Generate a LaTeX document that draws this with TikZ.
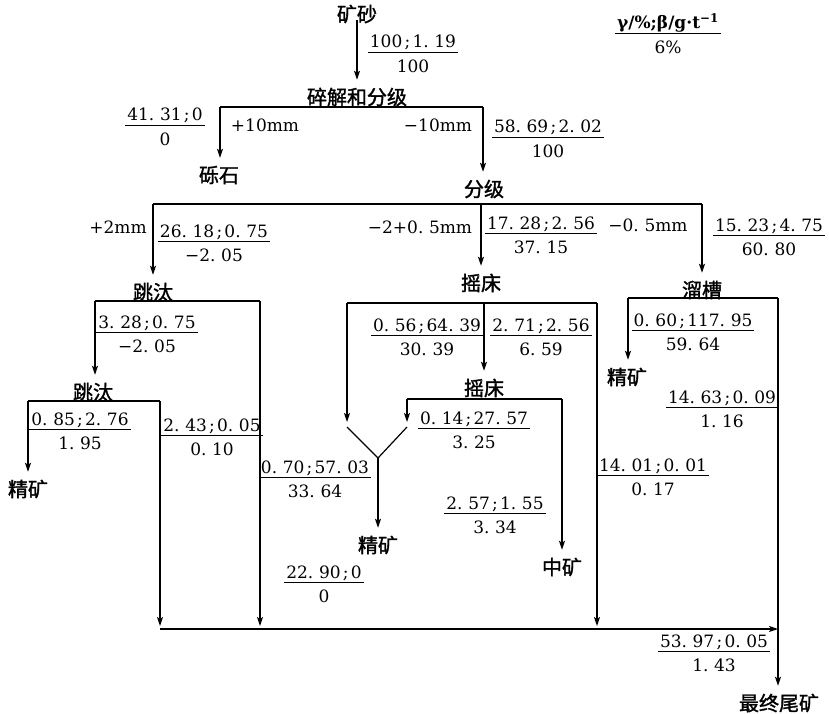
\documentclass[tikz,border=0pt]{standalone}
\usepackage{fontspec}
\setmainfont{DejaVu Serif}
\newfontfamily\cjkfont[FakeBold=1.5]{Noto Sans CJK SC}
\usetikzlibrary{arrows.meta}
\setlength\arrayrulewidth{1.1pt}
\newcommand\dd{\makebox[0.65em][l]{.}}
\newcommand\sm{\makebox[0.6em][c]{;}}
\newcommand\frc[2]{\begin{tabular}[t]{@{\hspace{2pt}}c@{\hspace{2pt}}}#1\\[-3pt]\hline\rule{0pt}{20pt}#2\end{tabular}}
\begin{document}
\begin{tikzpicture}[x=1pt,y=-1pt,
  proc/.style={font=\cjkfont\fontsize{20}{22}\selectfont, inner sep=1pt, outer sep=7pt},
  lbl/.style={font=\fontsize{17}{22}\selectfont, inner sep=0pt, anchor=base},
  frac/.style={font=\fontsize{17}{22}\selectfont, inner sep=0pt, anchor=base},
  ln/.style={line width=1.2pt},
  bar/.style={line width=1.8pt},
  arr/.style={line width=1.2pt, -{Stealth[length=9pt,width=6pt,inset=2pt]}}]
\fill[white] (0,0) rectangle (829,714);
\useasboundingbox (0,0) rectangle (829,714);

% process nodes
\node[proc] (ks) at (357,14) {矿砂};
\node[proc] (sj) at (357,97) {碎解和分级};
\node[proc] (ls) at (219,175) {砾石};
\node[proc] (fj) at (484,189) {分级};
\node[proc] (tt1) at (153,292) {跳汰};
\node[proc] (yc1) at (481,283) {摇床};
\node[proc] (lc) at (702,290) {溜槽};
\node[proc] (tt2) at (93,392) {跳汰};
\node[proc] (jk1) at (28,489) {精矿};
\node[proc] (yc2) at (484,388) {摇床};
\node[proc] (jk2) at (378,545) {精矿};
\node[proc] (zk) at (562,567) {中矿};
\node[proc] (jk3) at (627,377) {精矿};
\node[proc] (zw) at (779,703) {最终尾矿};

% size labels
\node[lbl] (p10) at (265,132) {+10mm};
\node[lbl] (m10) at (438,132) {−10mm};
\node[lbl] (p2) at (118,233) {+2mm};
\node[lbl] (m2) at (420,233) {−2+0\dd5mm};
\node[lbl] (m05) at (648,231) {−0\dd5mm};

% fractions
\node[frac] (f1) at (413,48) {\frc{100\sm1\dd19}{100}};
\node[frac] (f2) at (165,121) {\frc{41\dd31\sm0}{0}};
\node[frac] (f3) at (548,133) {\frc{58\dd69\sm2\dd02}{100}};
\node[frac] (f4) at (214,237) {\frc{26\dd18\sm0\dd75}{−2\dd05}};
\node[frac] (f5) at (541,229) {\frc{17\dd28\sm2\dd56}{37\dd15}};
\node[frac] (f6) at (769,231) {\frc{15\dd23\sm4\dd75}{60\dd80}};
\node[frac] (f7) at (147,328) {\frc{3\dd28\sm0\dd75}{−2\dd05}};
\node[frac] (f8) at (427,331) {\frc{0\dd56\sm64\dd39}{30\dd39}};
\node[frac] (f9) at (541,331) {\frc{2\dd71\sm2\dd56}{6\dd59}};
\node[frac] (f10) at (693,326) {\frc{0\dd60\sm117\dd95}{59\dd64}};
\node[frac] (f11) at (80,425) {\frc{0\dd85\sm2\dd76}{1\dd95}};
\node[frac] (f12) at (212,431) {\frc{2\dd43\sm0\dd05}{0\dd10}};
\node[frac] (f13) at (315,473) {\frc{0\dd70\sm57\dd03}{33\dd64}};
\node[frac] (f14) at (324,578) {\frc{22\dd90\sm0}{0}};
\node[frac] (f15) at (474,424) {\frc{0\dd14\sm27\dd57}{3\dd25}};
\node[frac] (f16) at (495,509) {\frc{2\dd57\sm1\dd55}{3\dd34}};
\node[frac] (f17) at (722,403) {\frc{14\dd63\sm0\dd09}{1\dd16}};
\node[frac] (f18) at (653,471) {\frc{14\dd01\sm0\dd01}{0\dd17}};
\node[frac] (f19) at (714,647) {\frc{53\dd97\sm0\dd05}{1\dd43}};
\node[frac] (lg) at (668,29) {\frc{\bfseries γ/\%;β/g·t\textsuperscript{−1}}{6\%}};

% bar coordinates
\coordinate (b1L) at (220,107); \coordinate (b1R) at (483,107);
\coordinate (b2L) at (153,204); \coordinate (b2M) at (481,204); \coordinate (b2R) at (702,204);
\coordinate (b3L) at (95,301);  \coordinate (b3R) at (260,301);
\coordinate (b4L) at (347,303); \coordinate (b4M) at (484,303); \coordinate (b4R) at (597,303);
\coordinate (b5L) at (628,298); \coordinate (b5R) at (778,298);
\coordinate (b6L) at (28,401);  \coordinate (b6R) at (160,401);
\coordinate (b7L) at (407,399); \coordinate (b7R) at (562,399);
\coordinate (c1) at (160,629); \coordinate (c2) at (260,629);
\coordinate (c3) at (597,629); \coordinate (c4) at (778,629);
\coordinate (yL) at (347,427); \coordinate (yR) at (407,427); \coordinate (yJ) at (378,458);

% connectors
\draw[arr] ([yshift=11pt]ks.south) -- (sj.north);
\draw[bar] (b1L) -- (b1R);
\draw[arr] (b1L) -- (b1L |- ls.north);
\draw[arr] (b1R) -- (b1R |- fj.north);

\draw[bar] (b2L) -- (b2R);
\draw[arr] (b2L) -- (b2L |- tt1.north);
\draw[arr] (b2M) -- (b2M |- yc1.north);
\draw[arr] (b2R) -- (b2R |- lc.north);

\draw[bar] (b3L) -- (b3R);
\draw[arr] (b3L) -- (b3L |- tt2.north);
\draw[arr,shorten >=3pt] (b3R) -- (c2);

\draw[bar] (b6L) -- (b6R);
\draw[arr] (b6L) -- (b6L |- jk1.north);
\draw[arr,shorten >=3pt] (b6R) -- (c1);

\draw[bar] (b4L) -- (b4R);
\draw[arr,shorten >=5pt] (b4L) -- (yL);
\draw[arr] (b4M) -- (b4M |- yc2.north);
\draw[arr,shorten >=3pt] (b4R) -- (c3);

\draw[bar] (b7L) -- (b7R);
\draw[arr,shorten >=5pt] (b7L) -- (yR);
\draw[arr] (b7R) -- (b7R |- zk.north);

\draw[ln] (yL) -- (yJ) -- (yR);
\draw[arr] (yJ) -- (yJ |- jk2.north);

\draw[bar] (b5L) -- (b5R);
\draw[arr] (b5L) -- (b5L |- jk3.north);
\draw[arr] (b5R) -- (b5R |- zw.north);

\draw[arr] (c1) -- (c4);
\end{tikzpicture}
\end{document}
